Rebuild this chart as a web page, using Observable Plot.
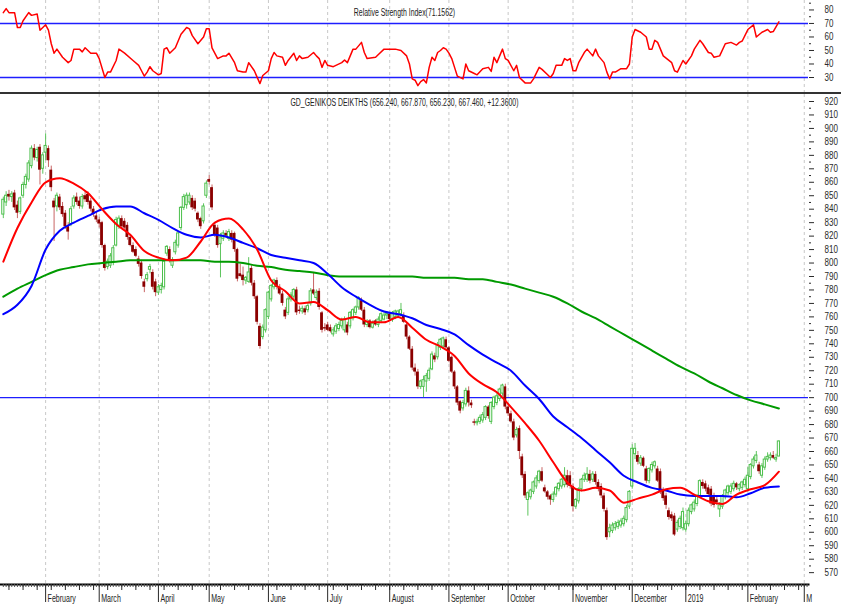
<!DOCTYPE html>
<html><head><meta charset="utf-8">
<script src="https://cdn.jsdelivr.net/npm/d3@7"></script>
<script src="https://cdn.jsdelivr.net/npm/@observablehq/plot@0.6"></script>
<style>
body{margin:0;background:#fff;}
#chart{width:841px;}
#sep{height:2px;background:#333;width:841px;}
svg{display:block}
</style></head><body><div id="chart"></div>
<script>
// ---- candle data (trading-day index 0..275) ----
const open = [
836,845,851,849,852,843,838,850,858,862, 872,885,878,886,870,882,885,869,846,842,
849,842,837,827,829,842,849,846,842,850, 851,846,840,835,832,830,813,797,798,800,
813,827,833,831,828,819,813,810,803,800, 786,788,795,793,786,778,780,782,807,810,
798,808,813,826,841,843,845,848,846,837, 833,831,850,862,856,828,826,814,818,822,
818,822,822,810,792,791,787,786,796,785, 775,753,745,750,760,773,782,787,782,777,
765,763,773,775,780,765,764,766,765,770, 780,774,779,763,752,754,752,747,749,751,
753,750,754,753,759,763,767,772,765,754, 757,752,757,754,757,758,761,762,758,760,
761,762,761,754,745,736,722,719,708,708, 712,714,721,731,730,737,738,743,737,730,
719,708,697,692,695,705,696,682,681,682, 683,685,693,682,693,696,699,703,708,693,
688,682,672,677,656,643,624,626,630,634, 638,645,633,630,627,624,628,632,634,635,
642,642,634,619,623,632,639,639,643,639, 643,637,634,627,616,600,601,603,604,605,
606,609,619,634,658,657,651,655,647,638, 646,649,647,645,631,627,616,613,612,602,
604,603,602,606,615,617,621,627,637,636, 633,632,627,624,617,619,626,629,630,632,
636,632,633,635,632,641,649,653,650,642, 648,654,655,657,654,656.24];
const high = [
849,853,854,853,854,846,849,860,866,876, 887,888,886,888,882,896,887,872,848,852,
851,845,839,830,842,850,852,849,851,853, 853,848,842,838,834,831,814,803,807,813,
834,835,835,833,830,821,815,812,805,802, 788,793,799,795,788,784,785,803,813,812,
804,817,823,842,851,852,852,850,848,838, 834,844,861,865,858,830,828,822,824,824,
825,824,823,811,799,797,790,804,798,787, 776,755,754,766,779,784,788,789,784,779,
767,775,778,781,782,768,768,768,770,781, 793,780,781,764,755,756,754,752,755,756,
759,760,756,764,766,768,775,774,767,758, 758,757,758,760,763,763,764,763,764,765,
765,770,763,755,746,738,725,721,713,716, 718,722,734,733,741,744,745,745,738,731,
720,709,698,698,707,708,698,684,684,687, 689,694,694,697,701,703,707,710,710,695,
690,684,678,679,658,645,630,632,638,642, 646,648,635,631,628,630,634,637,640,648,
646,645,636,625,633,640,644,648,646,645, 645,639,636,629,618,606,607,608,609,610,
612,620,631,665,666,660,657,656,649,648, 652,653,649,647,633,629,618,615,614,609,
612,618,608,618,621,624,628,639,639,638, 635,634,629,626,622,628,632,635,636,638,
637,636,638,641,648,651,656,660,652,651, 656,659,659,660,658,667.87];
const low = [
833,842,846,845,839,833,836,848,855,860, 870,876,875,858,866,876,871,853,816,838,
839,834,825,817,827,840,843,840,840,845, 843,838,834,830,826,811,794,795,796,798,
812,825,826,825,817,812,807,804,797,788, 778,786,792,780,775,776,777,780,805,800,
796,806,811,824,839,840,843,839,838,830, 825,829,848,858,839,819,811,789,816,819,
816,815,808,786,789,783,784,785,783,773, 754,736,743,748,758,771,780,780,776,768,
758,761,771,773,761,762,762,761,763,768, 776,772,765,748,749,749,748,745,747,749,
751,748,746,751,757,761,765,764,752,752, 751,751,753,752,755,757,758,757,756,758,
759,760,755,743,735,720,716,706,706,700, 704,712,720,726,728,735,736,736,726,718,
706,694,688,690,693,693,692,679,679,680, 681,683,684,680,691,694,697,701,691,686,
681,668,670,654,640,625,612,624,628,632, 636,637,629,624,620,622,626,630,632,633,
633,632,615,617,621,630,637,637,636,637, 635,630,625,615,594,596,599,601,602,603,
604,607,617,632,654,650,649,648,636,636, 644,647,637,628,623,617,609,608,597,600,
602,601,600,604,613,615,619,625,632,630, 627,619,618,620,611,617,624,627,628,630,
631,630,631,633,630,639,647,651,643,640, 646,652,653,654,652,656.23];
const close = [
847,850,849,851,841,837,848,858,864,874, 885,878,884,869,880,887,876,856,841,850,
841,836,827,823,840,848,845,842,849,847, 845,840,836,832,829,813,796,801,805,811,
832,833,827,826,819,813,808,805,799,790, 782,791,797,782,778,782,783,801,812,802,
802,815,822,841,849,850,850,841,840,832, 827,842,859,860,841,821,813,819,822,820,
823,817,810,788,790,787,789,793,785,775, 756,738,752,765,778,783,787,782,777,770,
760,773,776,780,763,764,766,763,768,779, 777,778,767,750,751,750,749,750,753,754,
757,758,748,763,765,767,774,765,754,756, 752,755,754,758,762,761,762,758,763,764,
764,765,756,745,736,722,719,708,712,713, 716,720,732,728,739,743,744,737,727,719,
708,696,690,696,705,696,694,681,682,685, 687,693,686,696,700,701,706,709,693,688,
682,670,676,660,642,627,629,631,637,640, 645,638,630,626,624,628,633,636,639,642,
635,634,619,624,632,639,642,643,638,643, 637,632,627,617,596,603,605,606,607,608,
610,618,630,662,662,652,655,649,638,647, 650,652,638,630,625,620,611,610,598,607,
610,615,606,616,620,622,627,638,634,632, 628,621,620,622,620,627,631,634,634,636,
633,635,637,639,642,650,654,657,645,649, 654,656,657,655,655.1,667.46];

// ---- moving averages, read every 5 trading days ----
const maDay = [0,5,10,15,20,25,30,35,40,45,50,55,60,65,70,75,80,85,90,95,100,105,110,115,120,125,130,135,
  140,145,150,155,160,165,170,175,180,185,190,195,200,205,210,215,220,225,230,235,240,245,250,255,260,265,270,275];
const maShort = [801,826,845,860,863,859,852,840,829,821,809,804,802,804,816,830,833,825,810,787,779,770,771,765,758,760,756,756,
  760,752,743,738,731,718,710,704,693,681,668,652,637,631,633,631,622,625,628,632,633,628,623,621,628,632,635,645];
const maMedium = [762,769,783,810,824,830,835,840,842,842,837,832,826,821,819,821,819,815,811,806,804,802,800,792,782,775,769,764,
  762,759,754,751,747,739,732,726,720,709,699,686,678,670,661,652,642,637,633,631,628,627,627,627,626,629,633,634];
const maLong = [775,781,786,791,795,797,799,800,801,802,802,802,802,802,802,801,801,800,798,797,795,794,793,791,790,790,790,790,
  790,790,789,789,789,788,788,786,784,781,778,775,770,764,759,753,747,741,735,729,723,718,712,707,702,698,695,692];

// ---- RSI ----
const rsiDay = [0,1,2,4,5,6,7,9,10,12, 13,15,16,17,18,19,21,23,24,25, 27,28,29,31,33,34,36,37,38,40,
  41,43,46,48,49,50,51,52,53,55, 56,57,58,59,61,63,65,66,67,69, 71,72,73,74,76,78,79,80,82,83,
  85,86,87,89,91,92,94,95,96,97, 99,100,101,103,104,105,106,108,110,111, 112,113,114,115,117,120,121,122,124,125,
  127,128,129,132,133,135,137,139,141,143, 144,145,146,147,148,149,150,151,152,153, 154,155,156,157,158,159,160,161,163,164,
  165,167,168,170,172,173,174,175,176,177, 178,179,181,182,183,185,187,188,190,191, 193,194,195,196,198,199,200,201,202,203,
  204,206,207,209,210,211,213,214,215,216, 217,219,221,222,223,224,226,228,229,230, 231,232,234,237,238,239,241,242,244,245,
  247,248,250,251,252,254,256,258,260,261, 262,264,266,267,269,271,272,273,275];
const rsiValue = [78,81,78,78,67,67,72,78,76,77, 65,69,65,55,48,51,45,41,42.6,51, 51,49,52,48,48,44,30,34,34,42.6,
  51,48,42.6,39,35,31,34,38,35,32, 33,51,52,48,52,62,67,66,61,55, 60,66,66,52,44,46,46,48,41,35,
  34,34,41,35,25.5,31.5,35,44,48.5,46, 45,39,42.6,48,42.6,46,44,45,48.5,46, 44,37.5,42.6,39,38,41,43,41,51,51,
  56,48.5,44,45,47,51,51,51,50,46, 40,29,28,24,27,28.5,26,37.5,45,42.6, 48.5,50,52,51,48,44,37.5,31,29,40,
  35,33,32,36.5,37.5,34.5,45,41,46,51, 44,42.6,35,39,30,26,26,29,37.5,36, 32,30,33,39,39,44,42.6,44,35,35,
  41,48.5,51,46,51,46,41,34,29,34, 34,36.5,36.5,40,60,65.5,63.5,60,51,51, 57.5,56,46,41,35,34,42.6,40,46,51,
  57.5,55,48.5,48,45,46,55,56,54,56, 57,65.5,69,60,63.5,65.5,63.5,64,71.2];

// ---- axis labels ----
const monthDays = [15,34,55,73,94,115,137,158,179,202,223,242,264,284];
const monthLabels = ["February","March","April","May","June","July","August","September","October","November","December","2019","February","M"];
const priceTicks = [570,580,590,600,610,620,630,640,650,660,670,680,690,700,710,720,730,740,750,760,770,780,790,800,810,820,830,840,850,860,870,880,890,900,910,920];
const rsiTicks = [30,40,50,60,70,80];
const rsiTitle = "Relative Strength Index(71.1562)";
const priceTitle = "GD_GENIKOS DEIKTHS (656.240, 667.870, 656.230, 667.460, +12.3600)";

// ---- build ----
const font = "'Liberation Sans',Arial,sans-serif";
const candles = close.map((c, i) => ({day: i, open: open[i], high: high[i], low: low[i], close: c}));
const up = candles.filter(d => d.close >= d.open);
const down = candles.filter(d => d.close < d.open);
const ma = (vals) => maDay.map((d, i) => ({day: d, value: vals[i]}));
const rsi = rsiDay.map((d, i) => ({day: d, value: rsiValue[i]}));
const xDomain = [-1, 285.5];
const style = {fontFamily: font, fontSize: "10px", color: "#2a2a2a", background: "#fff", overflow: "visible"};
const grid = Plot.ruleX(monthDays, {stroke: "#c8c8c8", strokeDasharray: "3,3", strokeWidth: 1});
const hline = {stroke: "#1e1eff", strokeWidth: 1.4};

const rsiPlot = Plot.plot({
  width: 841, height: 92, marginLeft: 0, marginRight: 33, marginTop: 0, marginBottom: 0,
  style,
  x: {domain: xDomain, axis: null, label: null},
  y: {domain: [18.9, 87.0], label: null},
  marks: [
    grid,
    Plot.ruleY([30, 70], hline),
    Plot.line(rsi, {x: "day", y: "value", stroke: "#ff0000", strokeWidth: 1.5}),
    Plot.axisY({anchor: "right", ticks: rsiTicks, tickSize: 5, tickPadding: 11, label: null}),
    Plot.axisY({anchor: "right", ticks: rsiTicks.map(t => t + 5), tickSize: 2, tickFormat: () => "", label: null}),
    Plot.text([rsiTitle], {frameAnchor: "top", dy: 12, lineAnchor: "middle", fill: "#222"})
  ]
});

const pricePlot = Plot.plot({
  width: 841, height: 512, marginLeft: 0, marginRight: 33, marginTop: 0, marginBottom: 22,
  style,
  x: {domain: xDomain, label: null},
  y: {domain: [561.2, 925.2], label: null},
  marks: [
    grid,
    Plot.ruleY([700], hline),
    Plot.ruleX(down, {x: "day", y1: "low", y2: "high", stroke: "#c86464", strokeWidth: 1}),
    Plot.ruleX(up, {x: "day", y1: "low", y2: "high", stroke: "#5cc45c", strokeWidth: 1}),
    Plot.rect(down, {x1: d => d.day - 0.5, x2: d => d.day + 0.5, y1: "open", y2: "close", fill: "#8b0000"}),
    Plot.rect(up, {x1: d => d.day - 0.38, x2: d => d.day + 0.38, y1: "open", y2: "close", fill: "#fff", stroke: "#4cbf4c", strokeWidth: 1}),
    Plot.line(ma(maLong), {x: "day", y: "value", stroke: "#009a00", strokeWidth: 2, curve: "monotone-x"}),
    Plot.line(ma(maMedium), {x: "day", y: "value", stroke: "#0000ff", strokeWidth: 2, curve: "monotone-x"}),
    Plot.line(ma(maShort), {x: "day", y: "value", stroke: "#ff0000", strokeWidth: 2, curve: "monotone-x"}),
    Plot.frame({anchor: "bottom", stroke: "#000", strokeWidth: 2}),
    Plot.axisX({ticks: d3.range(0, 286), tickSize: 3, tickFormat: () => "", label: null, stroke: "#555"}),
    Plot.axisX({ticks: d3.range(2, 286, 5), tickSize: 6, tickFormat: () => "", label: null}),
    Plot.axisX({ticks: monthDays, tickSize: 18, tickFormat: () => "", label: null}),
    Plot.text(monthDays, {x: d => d, text: (d, i) => monthLabels[i], frameAnchor: "bottom", dy: 14, dx: 2, lineAnchor: "middle", textAnchor: "start", fill: "#222", fontSize: 10.5}),
    Plot.axisY({anchor: "right", ticks: priceTicks, tickSize: 5, tickPadding: 11, label: null}),
    Plot.axisY({anchor: "right", ticks: priceTicks.slice(0, -1).map(t => t + 5), tickSize: 2, tickFormat: () => "", label: null}),
    Plot.text([priceTitle], {frameAnchor: "top", dy: 8, lineAnchor: "middle", fill: "#222"})
  ]
});

const chart = document.getElementById("chart");
chart.appendChild(rsiPlot);
const sep = document.createElement("div"); sep.id = "sep";
chart.appendChild(sep);
chart.appendChild(pricePlot);

// condense the text horizontally (the reference uses a narrow face)
for (const svg of [rsiPlot, pricePlot]) {
  svg.querySelectorAll("text").forEach(t => {
    const len = t.getComputedTextLength();
    if (!len) return;
    const g = t.closest("g[aria-label]");
    const lab = g ? g.getAttribute("aria-label") : "";
    const f = lab.indexOf("tick label") >= 0 ? 0.8 : (t.textContent.length < 12 ? 0.67 : 0.69);
    t.setAttribute("textLength", (len * f).toFixed(1));
    t.setAttribute("lengthAdjust", "spacingAndGlyphs");
  });
}
</script></body></html>
